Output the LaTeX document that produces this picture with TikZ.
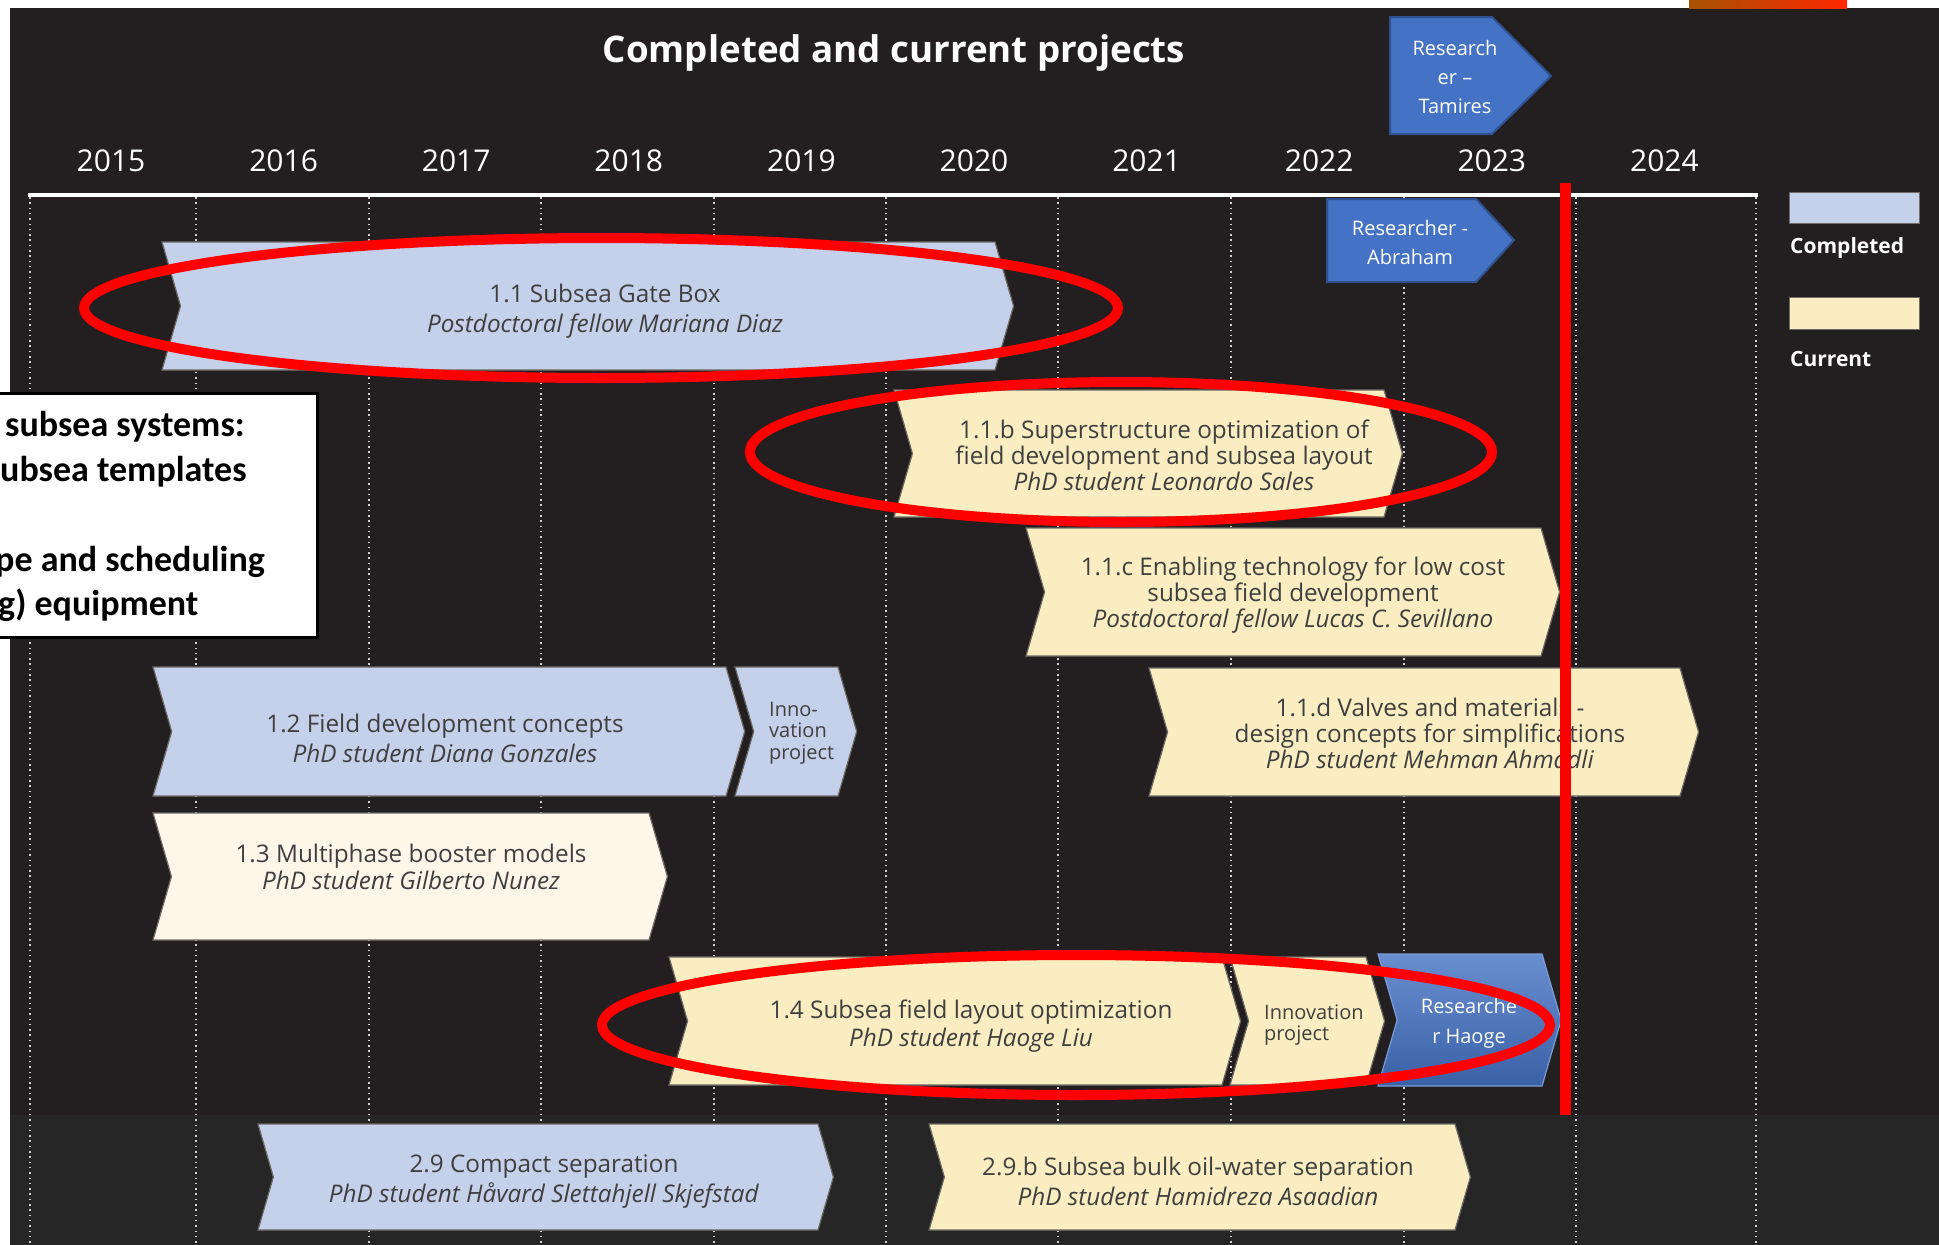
\documentclass[tikz,border=0pt]{standalone}
\usepackage{fontspec}
\setmainfont{Open Sans}
\newfontfamily\notefont{Carlito}

\definecolor{bgdark}{HTML}{231F20}
\definecolor{bgband}{HTML}{262626}
\definecolor{donefill}{HTML}{C5D0EA}
\definecolor{nowfill}{HTML}{FAEDC1}
\definecolor{palefill}{HTML}{FDF6E9}
\definecolor{baredge}{HTML}{6E6A64}
\definecolor{resblue}{HTML}{4472C4}
\definecolor{resedge}{HTML}{2F528F}
\definecolor{labelgray}{HTML}{3F3F3F}
\definecolor{gridgray}{HTML}{D2D2D2}

% chevron bar: style, name, left, right, top, bottom
\newcommand{\chevron}[6][]{%
  \pgfmathsetmacro\tipw{0.145*(#6-#5)}%
  \pgfmathsetmacro\ymid{(#5+#6)/2}%
  \path[#1] (#3,#5) -- (#4,#5) -- ({#4+\tipw},\ymid) -- (#4,#6) -- (#3,#6)
    -- ({#3+\tipw},\ymid) -- cycle;
  \coordinate (#2) at ({(#3+#4+\tipw)/2},\ymid);
}

\begin{document}
\begin{tikzpicture}[x=1pt, y=-1pt,
  yearlbl/.style={text=white, font=\fontsize{30}{32}\selectfont},
  bartxt/.style={text=labelgray, align=center, inner sep=0pt, font=\fontsize{24.3}{30}\selectfont},
  bartxt3/.style={bartxt, font=\fontsize{24.3}{26}\selectfont},
  innotxt/.style={text=labelgray, align=left, anchor=west, inner sep=0pt, font=\fontsize{20}{21.5}\selectfont},
  restxt/.style={text=white, align=center, inner sep=0pt, font=\fontsize{20}{29}\selectfont},
  legendtxt/.style={text=white, anchor=west, inner sep=0pt, font=\bfseries\fontsize{21}{25}\selectfont},
  donebar/.style={fill=donefill, draw=baredge, line width=1.2pt},
  nowbar/.style={fill=nowfill, draw=baredge, line width=1.2pt},
  palebar/.style={fill=palefill, draw=baredge, line width=1.2pt},
  resbar/.style={fill=resblue, draw=resedge, line width=2pt},
  ringmark/.style={draw=red, line width=10pt},
  gridline/.style={draw=gridgray, line width=1.4pt, dash pattern=on 1.5pt off 3.8pt},
  notetxt/.style={anchor=base west, inner sep=0pt, font=\notefont\bfseries\fontsize{36}{44}\selectfont}
]
\useasboundingbox (0,0) rectangle (1939,1245);

% Background
\fill[white] (0,0) rectangle (1939,1245);
\fill[bgdark] (10,8) rectangle (1939,1115);
\fill[bgband] (10,1115) rectangle (1939,1245);
\fill[left color=orange!65!black, right color=red!70!orange] (1689,0) rectangle (1847,8);

% Year grid
\foreach \gx in {30,196,369,541,714,886,1058,1231,1404,1576,1756}
  \draw[gridline] (\gx,197) -- (\gx,1245);
\draw[white, line width=4.5pt] (28,195) -- (1758,195);

% Title and years
\node[text=white, font=\bfseries\fontsize{36.7}{40}\selectfont] (title) at (894,53) {Completed and current projects};
\foreach \yr [count=\i from 0] in {2015,...,2024}
  \node[yearlbl] (y\yr) at ({111+172.6*\i},161) {\yr};

% Legend
\fill[donefill, draw=baredge] (1789,192) rectangle (1919,223);
\node[legendtxt] (lgdone) at (1790,248) {Completed};
\fill[nowfill, draw=baredge] (1789,297) rectangle (1919,329);
\node[legendtxt] (lgnow) at (1790,359) {Current};

% Project 1.1 and its follow-ups
\chevron[donebar]{b11}{162}{995}{242}{370}
\node[bartxt] (t11) at (605,311) {1.1 Subsea Gate Box\\\textit{Postdoctoral fellow Mariana Diaz}};

\chevron[nowbar]{b11b}{894}{1384}{390}{517}
\node[bartxt3] (t11b) at (1164,455) {1.1.b Superstructure optimization of\\field development and subsea layout\\\textit{PhD student Leonardo Sales}};

\chevron[nowbar]{b11c}{1026}{1541}{528}{656}
\node[bartxt3] (t11c) at (1293,595) {1.1.c Enabling technology for low cost\\subsea field development\\\textit{Postdoctoral fellow Lucas C. Sevillano}};

\chevron[nowbar]{b11d}{1149}{1680}{668}{796}
\node[bartxt3] (t11d) at (1430,733) {1.1.d Valves and materials -\\design concepts for simplifications\\\textit{PhD student Mehman Ahmadli}};

% Projects 1.2 - 1.4
\chevron[donebar]{b12}{153}{726}{667}{796}
\node[bartxt] (t12) at (445,738) {1.2 Field development concepts\\\textit{PhD student Diana Gonzales}};
\chevron[donebar]{b12i}{735}{838}{667}{796}
\node[innotxt] (t12i) at (769,733) {Inno-\\vation\\project};

\chevron[palebar]{b13}{153}{649}{813}{940}
\node[bartxt, font=\fontsize{24.3}{27}\selectfont] (t13) at (411,867) {1.3 Multiphase booster models\\\textit{PhD student Gilberto Nunez}};

\chevron[nowbar]{b14}{669}{1222}{957}{1085}
\node[bartxt, font=\fontsize{24.3}{28}\selectfont] (t14) at (971,1026) {1.4 Subsea field layout optimization\\\textit{PhD student Haoge Liu}};
\chevron[nowbar]{b14i}{1230}{1366}{957}{1085}
\node[innotxt] (t14i) at (1264,1025) {Innovation\\project};
\chevron[top color=resblue!80!white, bottom color=resblue!85!black, draw=resblue!70!white, line width=1.2pt]{b14r}{1378}{1542}{954}{1086}
\node[restxt, font=\fontsize{20}{30}\selectfont] (t14r) at (1469,1023) {Researche\\r Haoge};

% Separation projects
\chevron[donebar]{b29}{258}{818}{1124}{1230}
\node[bartxt] (t29) at (544,1181) {2.9 Compact separation\\\textit{PhD student Håvard Slettahjell Skjefstad}};
\chevron[nowbar]{b29b}{929}{1455}{1124}{1230}
\node[bartxt] (t29b) at (1198,1181) {2.9.b Subsea bulk oil-water separation\\\textit{PhD student Hamidreza Asaadian}};

% Researchers
\path[resbar] (1390,17) -- (1492,17) -- (1551,76) -- (1492,134) -- (1390,134) -- cycle;
\node[restxt] (rtam) at (1455,77) {Research\\er –\\Tamires};
\path[resbar] (1327,199) -- (1476,199) -- (1514,240) -- (1476,282) -- (1327,282) -- cycle;
\node[restxt] (rabr) at (1410,242) {Researcher -\\Abraham};

% Note box on the left
\draw[fill=white, draw=black, line width=3pt] (-5,393) rectangle (317,637);
\node[notetxt] (n1) at (5,436) {subsea systems:};
\node[notetxt] (n2) at (0,481) {ubsea templates};
\node[notetxt] (n3) at (-5,571) {pe and scheduling};
\node[notetxt] (n4) at (-2,615) {g) equipment};

% Highlights and today line
\draw[ringmark] (601,308) ellipse [x radius=517, y radius=70];
\draw[ringmark] (1121,452) ellipse [x radius=371, y radius=70];
\draw[ringmark] (1076,1025) ellipse [x radius=474, y radius=70];
\draw[red, line width=11pt] (1565,183) -- (1565,1115);

\end{tikzpicture}
\end{document}
